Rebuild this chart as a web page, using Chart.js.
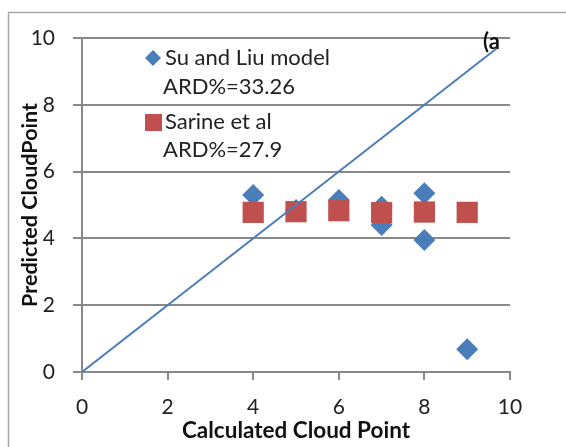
<!DOCTYPE html>
<html>
<head>
<meta charset="utf-8">
<script src="https://cdn.jsdelivr.net/npm/chart.js@4"></script>
<style>
  html, body { margin: 0; padding: 0; background: #fff; }
  canvas { display: block; }
</style>
</head>
<body>
<canvas id="cloudChart" width="566" height="447"></canvas>
<script>
// Predicted vs calculated cloud point
const suLiuX = [4, 5, 6, 7, 7, 8, 8, 9];
const suLiuY = [5.3, 4.85, 5.15, 4.95, 4.4, 5.35, 3.95, 0.68];
const sarineX = [4, 5, 6, 7, 8, 9];
const sarineY = [4.78, 4.8, 4.83, 4.77, 4.79, 4.78];
const lineX = [0, 9.7];
const lineY = [0, 9.7];
const legendLines = [['Su and Liu model', 'ARD%=33.26'], ['Sarine et al', 'ARD%=27.9']];
const cornerLabel = '(a';

const FONT = "Lato, 'Open Sans', sans-serif";
const BLUE = '#4a7ebb';
const RED = '#c0504d';
const GRID = '#898989';

const toPoints = (xs, ys) => xs.map((x, i) => ({ x: x, y: ys[i] }));

// frame, legend and corner label
const decorations = {
    id: 'decorations',
    beforeDraw(chart) {
        const ctx = chart.ctx;
        ctx.save();
        ctx.fillStyle = '#fff';
        ctx.fillRect(0, 0, chart.width, chart.height);
        ctx.strokeStyle = '#a6a6a6';
        ctx.lineWidth = 1.5;
        ctx.strokeRect(8.5, 12.5, 700, 700);
        ctx.restore();
    },
    afterDraw(chart) {
        const ctx = chart.ctx;
        const area = chart.chartArea;
        ctx.save();
        ctx.font = '22px ' + FONT;
        ctx.textBaseline = 'middle';
        const mx = area.left + 71;
        const tx = area.left + 82;
        // Su and Liu: diamond
        let y = area.top + 20;
        ctx.fillStyle = BLUE;
        ctx.beginPath();
        ctx.moveTo(mx, y - 8);
        ctx.lineTo(mx + 8, y);
        ctx.lineTo(mx, y + 8);
        ctx.lineTo(mx - 8, y);
        ctx.closePath();
        ctx.fill();
        ctx.fillStyle = '#222';
        ctx.fillText(legendLines[0][0], tx + 1, y);
        ctx.fillText(legendLines[0][1], tx - 1, y + 29);
        // Sarine: square
        y = area.top + 84;
        ctx.fillStyle = RED;
        ctx.fillRect(mx - 8, y - 8, 17, 17);
        ctx.fillStyle = '#222';
        ctx.fillText(legendLines[1][0], tx + 1, y);
        ctx.fillText(legendLines[1][1], tx - 1, y + 28);
        // corner label
        ctx.font = 'bold 22px ' + FONT;
        ctx.fillStyle = '#111';
        ctx.fillText(cornerLabel, area.right - 27, area.top + 4);
        ctx.restore();
    }
};

new Chart(document.getElementById('cloudChart'), {
    type: 'scatter',
    data: {
        datasets: [{
            type: 'line',
            label: 'y = x',
            data: toPoints(lineX, lineY),
            borderColor: BLUE,
            borderWidth: 2,
            pointRadius: 0,
            fill: false,
            order: 0
        }, {
            label: legendLines[1][0],
            data: toPoints(sarineX, sarineY),
            pointStyle: 'rect',
            pointRadius: 15,
            backgroundColor: RED,
            borderColor: RED,
            borderWidth: 0,
            order: 1
        }, {
            label: legendLines[0][0],
            data: toPoints(suLiuX, suLiuY),
            pointStyle: 'rectRot',
            pointRadius: 11,
            backgroundColor: BLUE,
            borderColor: BLUE,
            borderWidth: 0,
            order: 2
        }]
    },
    options: {
        responsive: false,
        animation: false,
        layout: { padding: { left: 0, top: 38, right: 56, bottom: 0 } },
        plugins: {
            legend: { display: false },
            tooltip: { enabled: false }
        },
        scales: {
            x: {
                type: 'linear',
                min: 0,
                max: 10,
                afterFit: scale => { scale.height = 75; },
                ticks: {
                    stepSize: 2,
                    padding: 15,
                    color: '#222',
                    font: { family: FONT, size: 21 }
                },
                grid: {
                    drawOnChartArea: false,
                    drawTicks: true,
                    tickLength: 8,
                    color: GRID,
                    lineWidth: 2
                },
                border: { display: true, color: GRID, width: 2 },
                title: {
                    display: true,
                    text: 'Calculated Cloud Point',
                    color: '#111',
                    font: { family: FONT, size: 22.5, weight: 'bold' },
                    padding: { top: 0, bottom: 3 }
                }
            },
            y: {
                type: 'linear',
                min: 0,
                max: 10,
                afterFit: scale => { scale.width = 82; },
                ticks: {
                    stepSize: 2,
                    padding: 18,
                    color: '#222',
                    font: { family: FONT, size: 21 }
                },
                grid: {
                    drawTicks: true,
                    tickLength: 9,
                    color: GRID,
                    lineWidth: 2
                },
                border: { display: true, color: GRID, width: 2 },
                title: {
                    display: true,
                    text: 'Predicted CloudPoint',
                    color: '#111',
                    font: { family: FONT, size: 21.5, weight: 'bold' },
                    padding: { top: 17, bottom: 0 }
                }
            }
        }
    },
    plugins: [decorations]
});
</script>
</body>
</html>
